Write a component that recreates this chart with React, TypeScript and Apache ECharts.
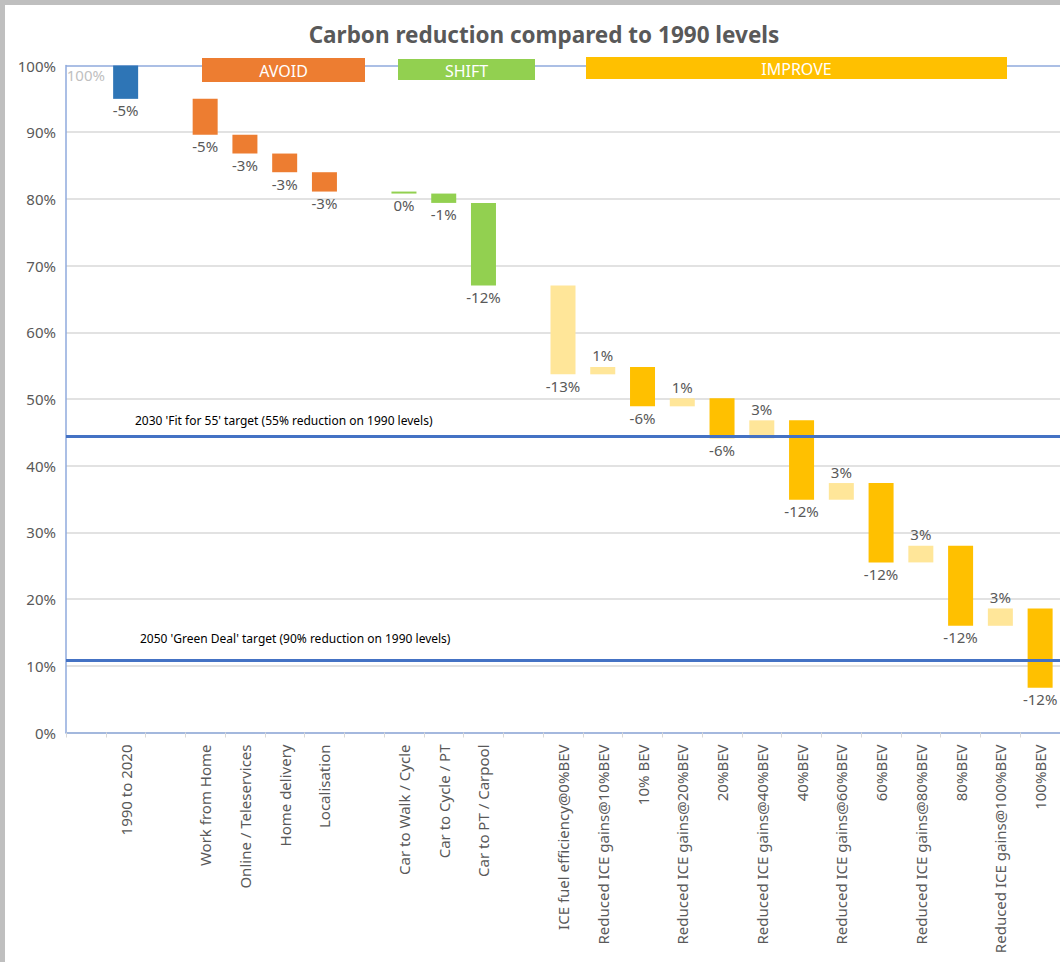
import React, { useEffect, useRef } from "react";
import * as echarts from "echarts";

const titleText = "Carbon reduction compared to 1990 levels";

const categories = [
  " ",
  "1990 to 2020",
  "  ",
  "Work from Home",
  "Online / Teleservices",
  "Home delivery",
  "Localisation",
  "   ",
  "Car to Walk / Cycle",
  "Car to Cycle / PT",
  "Car to PT / Carpool",
  "    ",
  "ICE fuel efficiency@0%BEV",
  "Reduced ICE gains@10%BEV",
  "10% BEV",
  "Reduced ICE gains@20%BEV",
  "20%BEV",
  "Reduced ICE gains@40%BEV",
  "40%BEV",
  "Reduced ICE gains@60%BEV",
  "60%BEV",
  "Reduced ICE gains@80%BEV",
  "80%BEV",
  "Reduced ICE gains@100%BEV",
  "100%BEV",
];

const startValue = 100;

// change in percentage points for each step (null = gap / start)
const changes: (number | null)[] = [
  null, -5, null, -5.4, -2.8, -2.8, -2.9, null, -0.3, -1.4, -12.4, null,
  -13.3, 1.1, -5.9, 1.2, -6.0, 2.7, -11.9, 2.5, -11.9, 2.5, -12.0, 2.6, -11.9,
];

const groups = [
  "start", "baseline", "", "avoid", "avoid", "avoid", "avoid", "", "shift", "shift", "shift", "",
  "ice", "ice", "bev", "ice", "bev", "ice", "bev", "ice", "bev", "ice", "bev", "ice", "bev",
];

const groupColors: Record<string, string> = {
  start: "rgba(0,0,0,0)",
  baseline: "#2e75b6",
  avoid: "#ed7d31",
  shift: "#92d050",
  ice: "#ffe699",
  bev: "#ffc000",
};

const targets = [
  { value: 44.4, text: "2030 'Fit for 55' target (55% reduction on 1990 levels)", padLeft: 64, padBottom: 5 },
  { value: 10.9, text: "2050 'Green Deal' target (90% reduction on 1990 levels)", padLeft: 69, padBottom: 10 },
];

const banners = [
  { text: "AVOID", x: 202, y: 58, w: 163, h: 24, color: "#ed7d31" },
  { text: "SHIFT", x: 398, y: 59, w: 137, h: 21, color: "#92d050" },
  { text: "IMPROVE", x: 586, y: 57, w: 421, h: 22, color: "#ffc000" },
];

const yTicks = [0, 10, 20, 30, 40, 50, 60, 70, 80, 90, 100];

export default function App() {
  const ref = useRef<HTMLDivElement>(null);

  useEffect(() => {
    if (!ref.current) return;
    const chart = echarts.init(ref.current, null, { renderer: "svg" });

    const baseData: any[] = [];
    const barData: any[] = [];
    let level = startValue;
    categories.forEach((_, i) => {
      const ch = changes[i];
      if (i === 0) {
        baseData.push(0);
        barData.push({
          value: startValue,
          itemStyle: { color: "rgba(0,0,0,0)" },
          label: {
            show: true,
            position: "insideTop",
            distance: 2,
            color: "#bfbfbf",
            formatter: `${startValue}%`,
          },
        });
        return;
      }
      if (ch == null) {
        baseData.push("-");
        barData.push("-");
        return;
      }
      const next = level + ch;
      baseData.push(Math.min(level, next));
      const r = Math.round(ch);
      barData.push({
        value: Math.abs(ch),
        itemStyle: { color: groupColors[groups[i]] },
        label: {
          show: true,
          position: ch < 0 ? "bottom" : "top",
          distance: 4,
          color: "#595959",
          formatter: `${r === 0 ? 0 : r}%`,
        },
      });
      level = next;
    });

    const splitColors = yTicks.map((t) => (t === 100 ? "#8faadc" : "#d9d9d9"));

    const graphics: any[] = [
      { type: "rect", left: 0, top: 0, shape: { width: 1060, height: 5 }, style: { fill: "#bfbfbf" }, z: 100 },
      { type: "rect", left: 0, top: 0, shape: { width: 5, height: 962 }, style: { fill: "#bfbfbf" }, z: 100 },
    ];
    banners.forEach((b) => {
      graphics.push({
        type: "rect",
        x: b.x,
        y: b.y,
        shape: { x: 0, y: 0, width: b.w, height: b.h },
        style: { fill: b.color },
        z: 50,
      });
      graphics.push({
        type: "text",
        x: b.x + b.w / 2,
        y: b.y + b.h / 2 + 1,
        style: {
          text: b.text,
          fill: "#ffffff",
          fontSize: 16,
          fontFamily: "Noto Sans",
          align: "center",
          verticalAlign: "middle",
        },
        z: 51,
      });
    });

    chart.setOption({
      animation: false,
      backgroundColor: "#ffffff",
      textStyle: { fontFamily: "Noto Sans" },
      title: {
        text: titleText,
        left: 539,
        textAlign: "center",
        top: 18,
        textStyle: { fontSize: 22.5, fontWeight: "bold", color: "#595959", fontFamily: "Noto Sans" },
      },
      graphic: graphics,
      grid: { left: 66, top: 65.5, width: 995, height: 667 },
      xAxis: {
        type: "category",
        data: categories,
        axisLine: { show: true, lineStyle: { color: "#8faadc", width: 1.5 } },
        axisTick: { show: true, alignWithLabel: false, length: 5, lineStyle: { color: "#d9d9d9" } },
        axisLabel: {
          interval: 0,
          rotate: 90,
          margin: 12,
          fontSize: 15,
          color: "#595959",
        },
      },
      yAxis: {
        type: "value",
        min: 0,
        max: 100,
        interval: 10,
        axisLine: { show: true, lineStyle: { color: "#8faadc", width: 1.5 } },
        axisTick: { show: false },
        axisLabel: { formatter: "{value}%", fontSize: 15, color: "#595959", margin: 10 },
        splitLine: { show: true, lineStyle: { color: splitColors, width: 1.5 } },
      },
      series: [
        {
          name: "base",
          type: "bar",
          stack: "w",
          barWidth: 25,
          silent: true,
          itemStyle: { color: "rgba(0,0,0,0)" },
          data: baseData,
        },
        {
          name: "change",
          type: "bar",
          stack: "w",
          barWidth: 25,
          data: barData,
          label: { fontSize: 15 },
          markLine: {
            silent: true,
            symbol: "none",
            lineStyle: { color: "#4472c4", width: 3, type: "solid" },
            data: targets.map((t) => ({
              yAxis: t.value,
              label: {
                show: true,
                position: "insideStartTop",
                formatter: t.text,
                color: "#000000",
                fontSize: 12,
                padding: [0, 0, t.padBottom, t.padLeft],
              },
            })),
          },
        },
      ],
    });

    return () => chart.dispose();
  }, []);

  return (
    <div
      ref={ref}
      style={{ position: "absolute", left: 0, top: 0, width: 1060, height: 962 }}
    />
  );
}
